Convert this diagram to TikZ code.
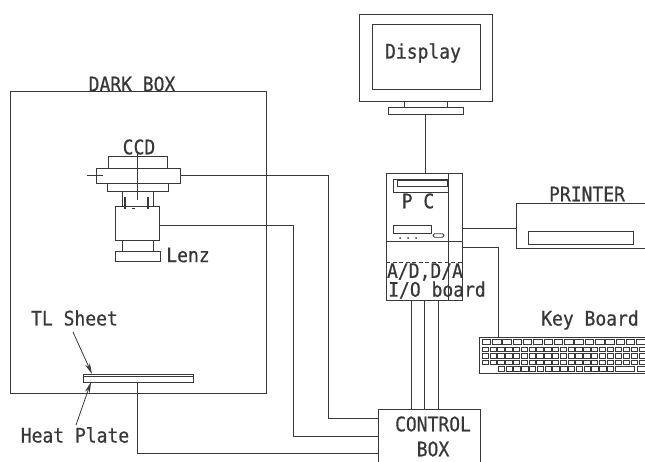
\documentclass[tikz,border=0pt]{standalone}
\usepackage{fontspec}
\setmainfont[FakeStretch=0.9,FakeBold=0.6]{DejaVu Sans Mono}
\usetikzlibrary{arrows.meta}
\definecolor{ink}{gray}{0.22}
\tikzset{
  x=1pt,y=-1pt,
  partbox/.style={draw=ink,line width=0.9pt,inner sep=0pt,outer sep=0pt,fill=none},
  wire/.style={draw=ink,line width=0.8pt},
  arrowline/.style={draw=ink,line width=0.8pt,-{Stealth[length=11pt,width=5pt]}},
  lbl/.style={text=ink,font=\fontsize{20}{20}\selectfont,inner sep=0pt},
  keycap/.style={draw=ink,line width=0.6pt},
}
% name, x1, y1, x2, y2
\newcommand{\partrect}[5]{\node[partbox,minimum width={(#4-(#2))*1pt},minimum height={(#5-(#3))*1pt}] (#1) at ({(#2+#4)/2},{(#3+#5)/2}) {};}
\begin{document}
\begin{tikzpicture}
\clip (0,0) rectangle (645,461);
% dark box
\partrect{dark}{10}{91}{266}{393}
\node[lbl] (darklbl) at (132,84) {DARK BOX};
% CCD assembly
\partrect{ccdtop}{108}{156}{167}{168}
\partrect{ccdmid}{96}{168}{180}{183}
\partrect{ccdlow}{107}{183}{168}{191}
\partrect{ccdneck}{122}{191}{153}{206}
\partrect{lensbody}{115}{206}{159}{240}
\partrect{lensneck}{122}{240}{153}{251}
\partrect{lensfoot}{115}{251}{160}{261}
\node[lbl] (ccdlbl) at (139,147) {CCD};
\node[lbl] (lenzlbl) at (188,255) {Lenz};
\coordinate (axt) at (137,153);
\coordinate (axb) at (137,200);
\draw[wire] (axt) -- (axb);
\coordinate (crl) at (87,175);
\coordinate (crr) at (103,175);
\draw[wire] (crl) -- (crr);
\coordinate (bar1t) at (125,197);
\coordinate (bar1b) at (125,209);
\coordinate (bar2t) at (148,197);
\coordinate (bar2b) at (148,209);
\draw[ink,line width=1.8pt] (bar1t) -- (bar1b);
\draw[ink,line width=1.8pt] (bar2t) -- (bar2b);
\fill[ink] (132,207.5) rectangle (134.5,209);
% plate
\partrect{plate}{83}{376}{193}{382}
\partrect{sheet}{83}{374}{193}{376}
\node[lbl] (tllbl) at (74.5,318) {TL Sheet};
\node[lbl] (heatlbl) at (75,435) {Heat Plate};
\coordinate (tlfrom) at (73,332);
\coordinate (heatfrom) at (76,425);
\coordinate (tlto) at (92,374);
\coordinate (heatto) at (91,382);
\draw[arrowline] (tlfrom) -- (tlto);
\draw[arrowline] (heatfrom) -- (heatto);
% display
\partrect{mon}{359}{14}{492}{101}
\partrect{screen}{372}{24}{480}{89}
\node[lbl] (displbl) at (423,53) {Display};
\partrect{base}{388}{107}{463}{114}
\draw[wire] (404,101) -- (404,107);
\draw[wire] (447,101) -- (447,107);
% PC
\partrect{pc}{386}{173}{462}{300}
\draw[wire] (448,173) -- (448,300);
\draw[wire] (386,241) -- (462,241);
\draw[wire,dashed,dash pattern=on 4pt off 2.5pt] (386,262) -- (462,262);
\partrect{drive}{393}{179}{448}{192}
\partrect{driveslot}{397}{180}{447}{186}
\partrect{floppy}{393}{225}{431}{233}
\node[partbox,rounded corners=1.5pt,minimum width=11pt,minimum height=3.5pt] (btn) at (438.5,235.5) {};
\foreach \q in {400,408,416} \fill[ink] (\q,238) circle (1pt);
\node[lbl] (pclbl) at (418,201) {P C};
\node[lbl] (adlbl) at (425,272) {A/D,D/A};
\node[lbl] (iolbl) at (437,290) {I/O board};
% printer
\partrect{printer}{516}{203}{670}{248}
\partrect{slot}{528}{231}{633}{244}
\node[lbl] (prlbl) at (587,194) {PRINTER};
% keyboard
\partrect{kbd}{479}{337}{670}{373}
\node[lbl] (kblbl) at (590,320) {Key Board};
\foreach \i in {0,...,15} \draw[keycap] ({482+\i*10.3},339.5) rectangle ({490.5+\i*10.3},344);
\foreach \i in {0,...,16} {
  \draw[keycap] ({482+\i*7.8},347) rectangle ({488.5+\i*7.8},351.5);
  \draw[keycap] ({482+\i*7.8},353.5) rectangle ({488.5+\i*7.8},358);
  \draw[keycap] ({482+\i*7.8},360) rectangle ({488.5+\i*7.8},364.5);
}
\foreach \i in {0,...,14} \draw[keycap] ({498+\i*7.8},366.5) rectangle ({504.5+\i*7.8},371);
\foreach \i in {0,...,3} {
  \draw[keycap] ({615.5+\i*8},347) rectangle ({621.5+\i*8},351.5);
  \draw[keycap] ({615.5+\i*8},353.5) rectangle ({621.5+\i*8},358);
  \draw[keycap] ({615.5+\i*8},360) rectangle ({621.5+\i*8},364.5);
}
\draw[keycap] (615.5,366.5) rectangle (634,371);
\draw[keycap] (637,366.5) rectangle (645,371);
% control box
\partrect{ctrl}{378}{409}{480}{480}
\node[lbl] (ctrllbl) at (433,424) {CONTROL};
\node[lbl] (boxlbl) at (433,449) {BOX};
% connectors
\coordinate (j1) at (328,418);
\coordinate (j2) at (293,436);
\coordinate (j3) at (137,453);
\coordinate (j4) at (498,247);
\draw[wire] (ccdmid.east) -- (ccdmid.east -| j1) -- (j1) -- (j1 -| ctrl.west);
\draw[wire] ([yshift=-2pt]lensbody.east) -- ([yshift=-2pt]lensbody.east -| j2) -- (j2) -- (j2 -| ctrl.west);
\draw[wire] (plate.south -| j3) -- (j3) -- (j3 -| ctrl.west);
\draw[wire] (base.south) -- (base.south |- pc.north);
\draw[wire] (pc.east |- 0,228) -- (printer.west |- 0,228);
\draw[wire] (pc.east |- j4) -- (j4) -- (j4 |- kbd.north);
\foreach \q in {411,424,438} \draw[wire] (\q,300) -- (\q,409);
\end{tikzpicture}
\end{document}
